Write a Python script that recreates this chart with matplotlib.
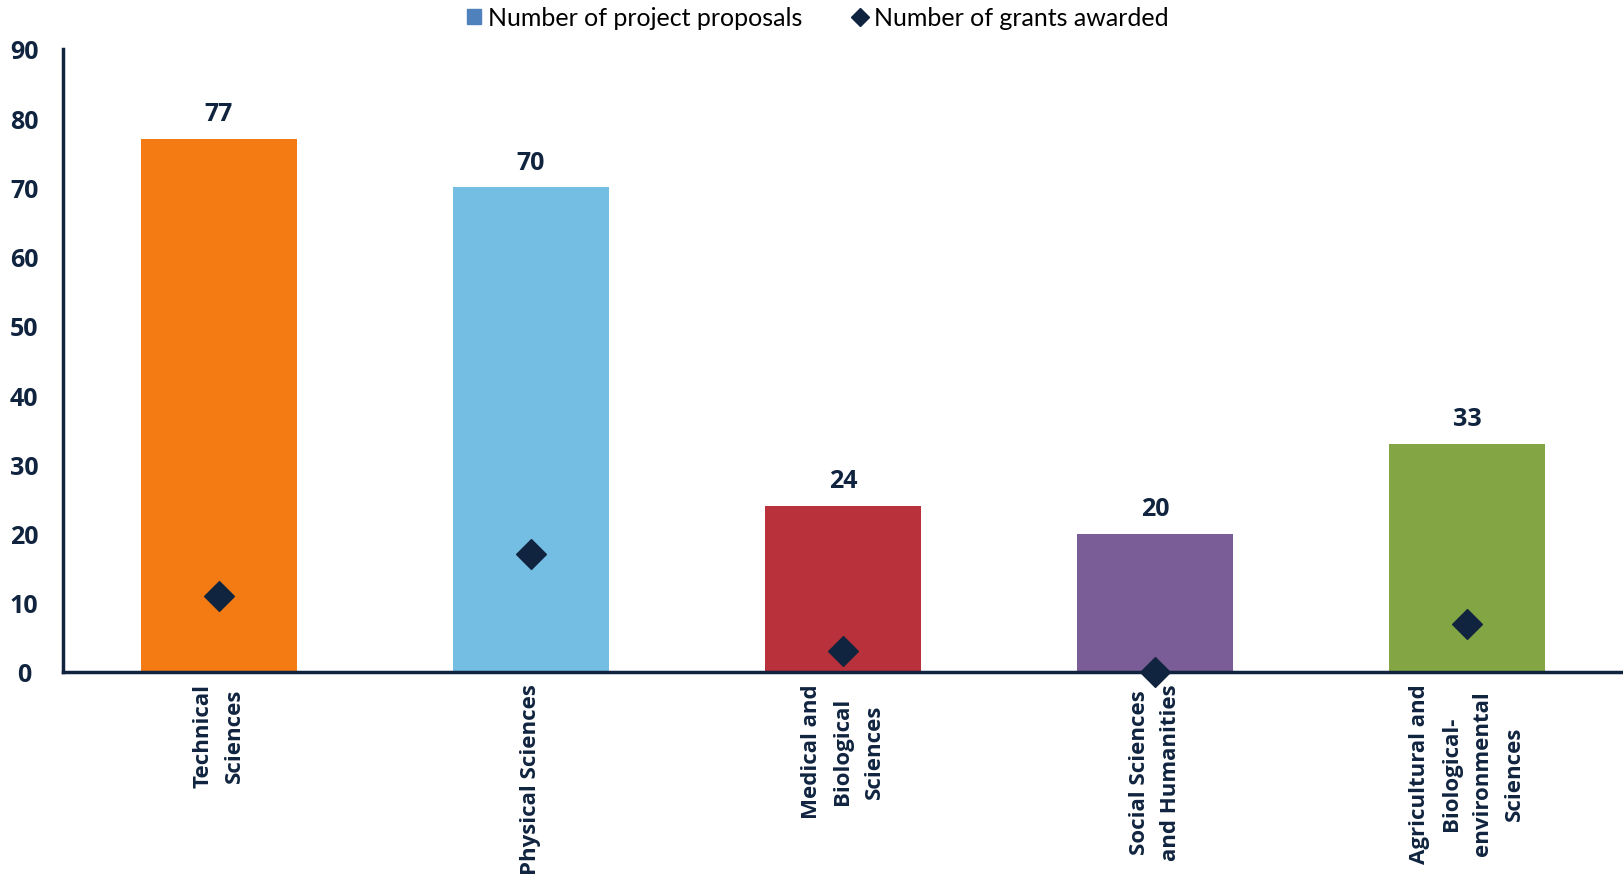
import matplotlib.pyplot as plt
from matplotlib.lines import Line2D
from matplotlib.patches import Patch

# Data
categories = ['Technical\nSciences', 'Physical Sciences', 'Medical and\nBiological\nSciences',
              'Social Sciences\nand Humanities', 'Agricultural and\nBiological-\nenvironmental\nSciences']
proposals = [77, 70, 24, 20, 33]
grants = [11, 17, 3, 0, 7]
bar_colors = ['#F47B14', '#74BDE3', '#B9313A', '#7A5C96', '#83A544']

navy = '#10243F'
legend_blue = '#4F81BD'

fig = plt.figure(figsize=(16.23, 8.79), dpi=100)
ax = fig.add_axes([0.0388, 0.2344, 0.9612, 0.7088])

x = range(len(categories))
ax.bar(x, proposals, width=0.5, color=bar_colors, zorder=2)
ax.scatter(x, grants, marker='D', s=230, color=navy, zorder=4, clip_on=False)

for i, v in enumerate(proposals):
    ax.annotate(str(v), (i, v), xytext=(0, 9), textcoords='offset points',
                ha='center', va='bottom', fontsize=18, fontweight='bold',
                color=navy, family='Open Sans')

ax.set_xlim(-0.5, 4.5)
ax.set_ylim(0, 90)
ax.set_yticks(range(0, 91, 10))
ax.set_xticks(list(x))
ax.set_xticklabels(categories, rotation=90, ha='center', va='top',
                   multialignment='center', linespacing=1.65)
ax.tick_params(length=0, labelcolor=navy)
ax.tick_params(axis='x', pad=8)
ax.tick_params(axis='y', pad=28)
for lab in ax.get_xticklabels():
    lab.set_family('Open Sans')
    lab.set_fontweight('bold')
    lab.set_fontsize(16)
for lab in ax.get_yticklabels():
    lab.set_family('Open Sans')
    lab.set_fontweight('bold')
    lab.set_fontsize(18)
    lab.set_horizontalalignment('center')

for s in ['top', 'right']:
    ax.spines[s].set_visible(False)
for s in ['left', 'bottom']:
    ax.spines[s].set_color(navy)
    ax.spines[s].set_linewidth(2.5)
    ax.spines[s].set_zorder(3)

handles = [Patch(color=legend_blue, label='Number of project proposals'),
           Line2D([], [], marker='D', linestyle='none', color=navy, markersize=9,
                  label='Number of grants awarded')]
fig.legend(handles=handles, loc='center', bbox_to_anchor=(0.504, 0.979), ncol=2,
           frameon=False, prop={'family': 'Lato', 'size': 18}, handlelength=0.55,
           handleheight=0.55, handletextpad=0.3, columnspacing=2.0)

fig.savefig('out.png', dpi=100)
